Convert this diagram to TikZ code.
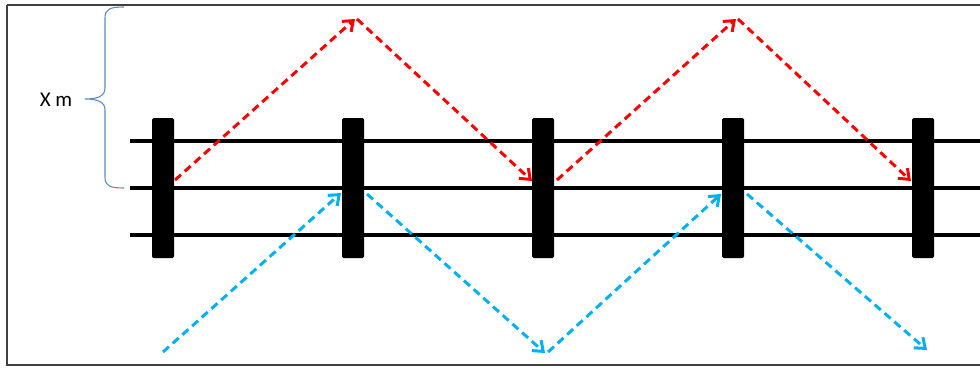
\documentclass[tikz,border=0pt]{standalone}
\usepackage{fontspec}
\setmainfont{Carlito}
\usetikzlibrary{arrows.meta}
\definecolor{redarr}{HTML}{FF0000}
\definecolor{bluearr}{HTML}{00B0F0}
\definecolor{bracec}{HTML}{5B8BC9}
\tikzset{
  rail/.style={line width=3.5pt, black},
  post/.style={draw=none, fill=black, minimum width=22pt, minimum height=140pt, rounded corners=1.5pt, inner sep=0pt},
  redpath/.style={redarr, line width=3pt, dash pattern=on 8pt off 5pt, -{Straight Barb[length=9pt,width=14pt,line width=3pt]}},
  bluepath/.style={bluearr, line width=3pt, dash pattern=on 8pt off 5pt, -{Straight Barb[length=9pt,width=14pt,line width=3pt]}},
  lbl/.style={font=\fontsize{21}{25}\selectfont, inner sep=0pt}
}
\begin{document}
\begin{tikzpicture}[x=1pt,y=-1pt]
\useasboundingbox (0,0) rectangle (980,367);
\draw[line width=1.3pt, black!75] (7,5) -- (990,5);
\draw[line width=1.3pt, black!75] (7,5) -- (7,365) -- (990,365);
% rails
\coordinate (r1a) at (130,141); \coordinate (r1b) at (985,141);
\coordinate (r2a) at (130,188); \coordinate (r2b) at (985,188);
\coordinate (r3a) at (130,235); \coordinate (r3b) at (985,235);
\draw[rail] (r1a) -- (r1b);
\draw[rail] (r2a) -- (r2b);
\draw[rail] (r3a) -- (r3b);
% posts
\foreach \i/\x in {1/163,2/353,3/543,4/733,5/923}{
  \node[post] (p\i) at (\x,188) {};
}
% red path
\coordinate (ra) at (175,180);
\coordinate (rb) at (355,19);
\coordinate (rc) at (357,19);
\coordinate (rd) at (532,181);
\coordinate (re) at (557,180);
\coordinate (rf) at (736,19);
\coordinate (rg) at (738,19);
\coordinate (rh) at (911,181);
\draw[redpath] (ra) -- (rb);
\draw[redpath] (rc) -- (rd);
\draw[redpath] (re) -- (rf);
\draw[redpath] (rg) -- (rh);
% blue path
\coordinate (ba) at (163,352);
\coordinate (bb) at (341,193);
\coordinate (bc) at (367,194);
\coordinate (bd) at (545,353);
\coordinate (be) at (548,352);
\coordinate (bf) at (721,194);
\coordinate (bg) at (747,194);
\coordinate (bh) at (927,350);
\draw[bluepath] (ba) -- (bb);
\draw[bluepath] (bc) -- (bd);
\draw[bluepath] (be) -- (bf);
\draw[bluepath] (bg) -- (bh);
% brace
\coordinate (bt) at (124,7);
\coordinate (bm) at (85,99);
\coordinate (bbot) at (124,188);
\draw[bracec, line width=1.1pt]
  (bt) .. controls (110,7) and (105,9) .. (105,18)
  -- (105,88) .. controls (105,96) and (98,99) .. (bm)
  .. controls (98,99) and (105,102) .. (105,110)
  -- (105,177) .. controls (105,186) and (110,188) .. (bbot);
\node[lbl] (xm) at (56,99.5) {X m};
\end{tikzpicture}
\end{document}
